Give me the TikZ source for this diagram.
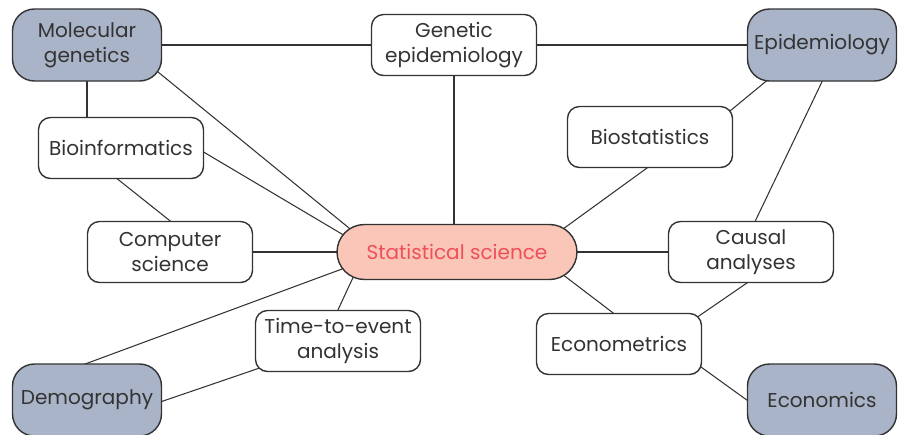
\documentclass[tikz,border=0pt]{standalone}
\usepackage{fontspec}
\setmainfont{Poppins}
\usetikzlibrary{backgrounds}
\definecolor{boxgray}{HTML}{AAB4C8}
\definecolor{boxpink}{HTML}{F9C6B8}
\definecolor{textred}{HTML}{EF4F58}
\definecolor{inkgray}{HTML}{333333}
\begin{document}
\begin{tikzpicture}[x=0.02cm,y=-0.02cm,
    topic/.style={draw=inkgray,line width=0.8pt,fill=white,rounded corners=0.24cm,
      minimum width=3.3cm,minimum height=1.22cm,align=center,text=inkgray,
      font=\fontsize{11.4}{14.2}\selectfont,inner sep=1pt},
    field/.style={topic,fill=boxgray,rounded corners=0.44cm,minimum width=2.98cm,minimum height=1.44cm},
    hub/.style={topic,fill=boxpink,text=textred,rounded corners=0.55cm,minimum width=4.8cm,minimum height=1.1cm},
    link/.style={draw=inkgray,line width=0.6pt,shorten <=-8pt,shorten >=-8pt}]
  \useasboundingbox (0,0) rectangle (909,434);
  % the hub
  \node[hub] (stat) at (457,252) {Statistical science};
  % outer fields
  \node[field] (molgen) at (87,45) {Molecular\\genetics};
  \node[field] (epi) at (822,45) {Epidemiology};
  \node[field] (demo) at (87,400) {Demography};
  \node[field] (econ) at (822,400) {Economics};
  % methods
  \node[topic] (genepi) at (454,45) {Genetic\\epidemiology};
  \node[topic] (bioinf) at (121,148) {Bioinformatics};
  \node[topic] (biostat) at (650,137) {Biostatistics};
  \node[topic] (compsci) at (170,252) {Computer\\science};
  \node[topic] (causal) at (751,252) {Causal\\analyses};
  \node[topic] (tte) at (338,341) {Time-to-event\\analysis};
  \node[topic] (metrics) at (619,344) {Econometrics};
  \begin{pgfonlayer}{background}
    \draw[link] (molgen.east) -- (genepi.west);
    \draw[link] (genepi.east) -- (epi.west);
    \draw[link] (molgen.south) -- (molgen.south |- bioinf.north);
    \draw[link] (molgen.-22) -- (stat.166);
    \draw[link] (bioinf.-3) -- (stat.170);
    \draw[link] (bioinf.264) -- (compsci.north);
    \draw[link] (compsci.east) -- (stat.west);
    \draw[link] (genepi.south) -- (genepi.south |- stat.north);
    \draw[link] (epi.213) -- (biostat.19);
    \draw[link] (biostat.264) -- (stat.14);
    \draw[link] (epi.south) -- (causal.82);
    \draw[link] (stat.east) -- (causal.west);
    \draw[link] (stat.-14) -- (metrics.101);
    \draw[link] (causal.262) -- (metrics.20);
    \draw[link] (metrics.-16) -- (econ.west);
    \draw[link] (stat.195) -- (tte.north);
    \draw[link] (stat.189) -- (demo.north);
    \draw[link] (tte.199) -- (demo.-1);
  \end{pgfonlayer}
\end{tikzpicture}
\end{document}
